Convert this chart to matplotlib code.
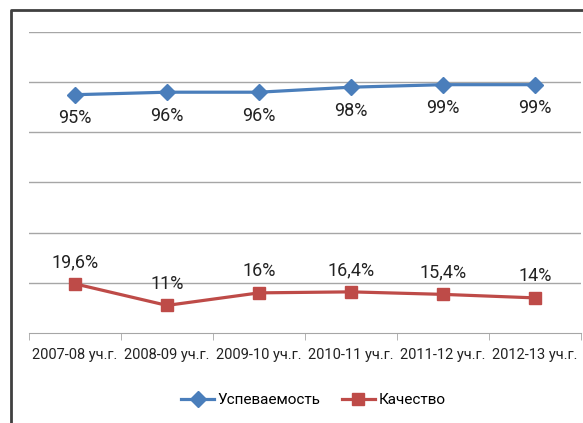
import matplotlib.pyplot as plt
from matplotlib.lines import Line2D

# --- данные ---
years = ['2007-08 уч.г.', '2008-09 уч.г.', '2009-10 уч.г.',
         '2010-11 уч.г.', '2011-12 уч.г.', '2012-13 уч.г.']
uspev = [95, 96, 96, 98, 99, 99]
kach = [19.6, 11, 16, 16.4, 15.4, 14]
uspev_labels = ['95%', '96%', '96%', '98%', '99%', '99%']
kach_labels = ['19,6%', '11%', '16%', '16,4%', '15,4%', '14%']

BLUE = '#4A7EBB'
RED = '#BE4B48'

plt.rcParams['font.family'] = ['Roboto', 'DejaVu Sans']

fig = plt.figure(figsize=(5.83, 4.23), dpi=100)
W, H = 583, 423
ax = fig.add_axes([29 / W, 1 - 333 / H, (581 - 29) / W, (333 - 32) / H])

x = list(range(len(years)))
ax.plot(x, uspev, color=BLUE, lw=2.3, marker='D', ms=8, label='Успеваемость')
ax.plot(x, kach, color=RED, lw=2.3, marker='s', ms=9, label='Качество')

for i in x:
    ax.annotate(uspev_labels[i], (i, uspev[i]), xytext=(0, -17), textcoords='offset points',
                ha='center', va='center', fontsize=13, color='#222222')
    ax.annotate(kach_labels[i], (i, kach[i]), xytext=(0, 15.5), textcoords='offset points',
                ha='center', va='center', fontsize=13, color='#222222')

ax.set_xlim(-0.5, len(years) - 0.5)
ax.set_ylim(0, 120)
ax.set_yticks(range(20, 121, 20))
ax.yaxis.grid(True, color='#A6A6A6', lw=1)
ax.tick_params(axis='y', left=False, labelleft=False)
ax.set_xticks(x)
ax.set_xticklabels(years, fontsize=10.5, color='#222222')
ax.set_xticks([i - 0.5 for i in range(len(years) + 1)], minor=True)
ax.tick_params(axis='x', which='major', length=0, pad=11)
ax.tick_params(axis='x', which='minor', length=5, color='#A6A6A6', direction='out')
for s in ['top', 'right', 'left']:
    ax.spines[s].set_visible(False)
ax.spines['bottom'].set_color('#A6A6A6')
ax.set_axisbelow(True)

fig.legend(loc='center', bbox_to_anchor=(313 / W, 1 - 400 / H), ncol=2,
           frameon=False, fontsize=11, handlelength=2.2, columnspacing=1.4,
           handletextpad=0.2)

# внешняя рамка диаграммы (видны только левый и верхний края)
fig.add_artist(Line2D([11 / W, 11 / W, 1.0], [0, 1 - 10 / H, 1 - 10 / H],
                      transform=fig.transFigure, color='#404040', lw=2))

fig.savefig('out.png', dpi=100)
